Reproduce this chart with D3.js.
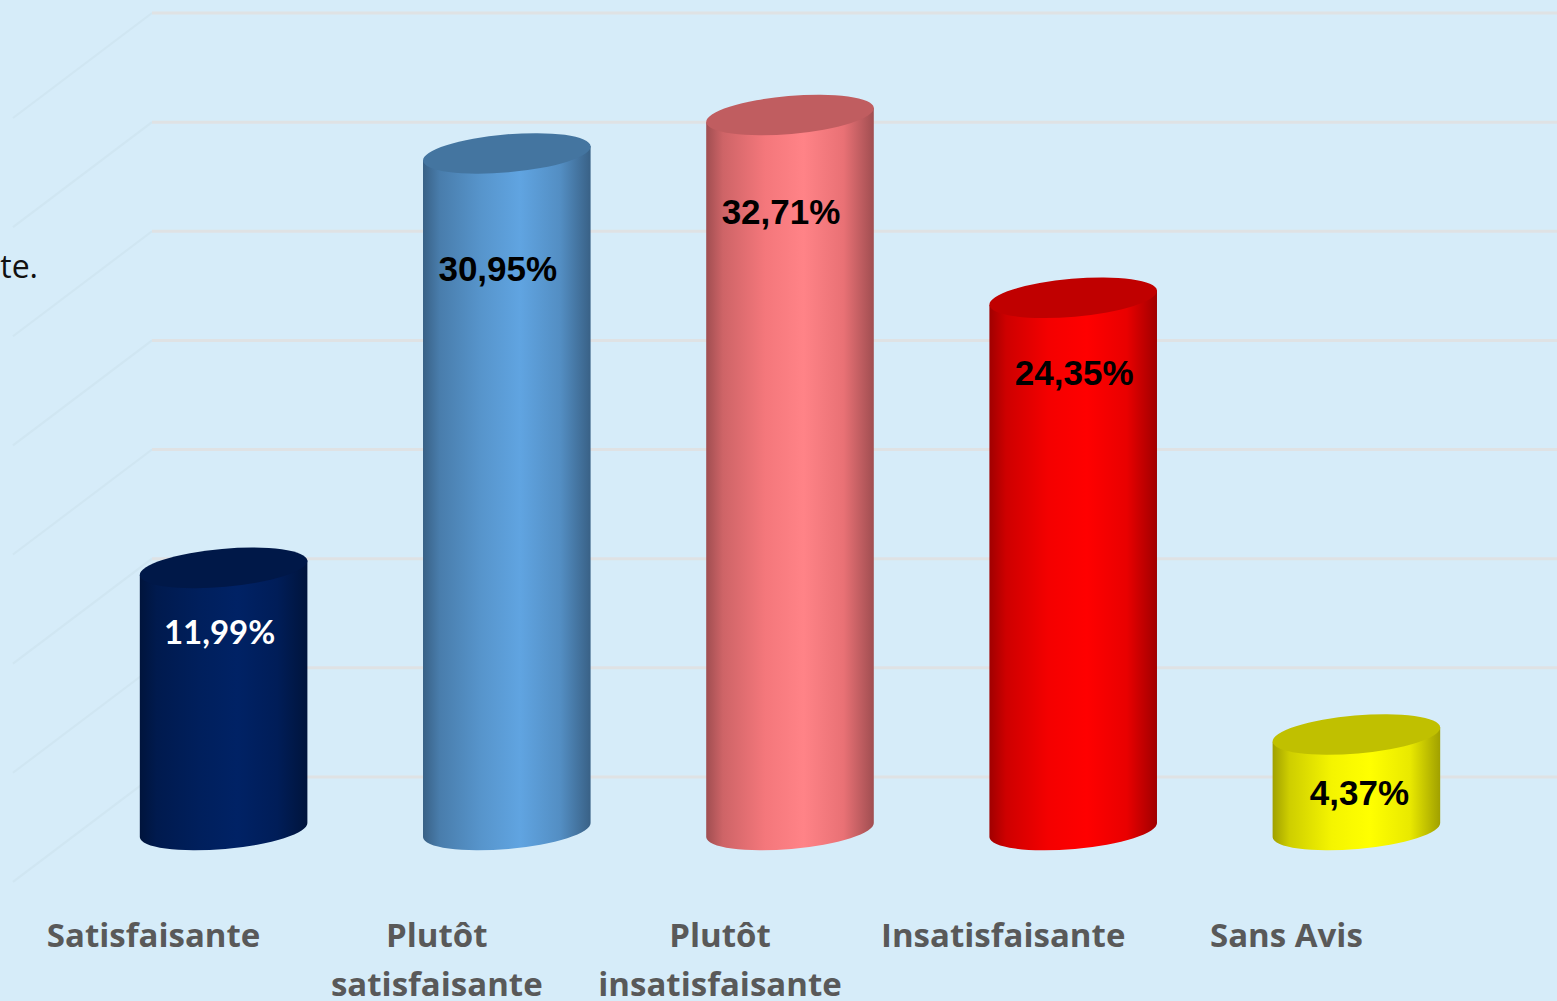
<!DOCTYPE html>
<html>
<head>
<meta charset="utf-8">
<script src="https://cdn.jsdelivr.net/npm/d3@7"></script>
<style>
  html, body { margin: 0; padding: 0; background: #d6ecf9; overflow: hidden; }
  svg { display: block; }
</style>
</head>
<body>
<svg id="chart" width="1557" height="1001"></svg>
<script>
// ---- data ----
const categories = ["Satisfaisante", "Plutôt satisfaisante", "Plutôt insatisfaisante", "Insatisfaisante", "Sans Avis"];
const values = [11.99, 30.95, 32.71, 24.35, 4.37];
const gridTicks = [5, 10, 15, 20, 25, 30, 35, 40];

// ---- styles / layout ----
const barColors = ["#002060", "#5B9BD5", "#FF7C80", "#FF0000", "#FFFF00"];
const labelColors = ["#ffffff", "#000000", "#000000", "#000000", "#000000"];
const labelOffsets = [65, 115, 97, 75, 58];
const labelDx = [-4, -9, -9, 1, 3];

const W = 1557, H = 1001;
const svg = d3.select("#chart");
svg.append("rect").attr("width", W).attr("height", H).attr("fill", "#d6ecf9");

const x = d3.scalePoint().domain(categories).range([82, 1498]).padding(0.5);
const yBar = d3.scaleLinear().domain([0, 35]).range([830, 830 - 35 * 21.86]);
const yWall = d3.scaleLinear().domain([0, 40]).range([886, 13]);

const wallLeft = 152, depthDx = -139, depthDy = 105;

// side-wall diagonals
svg.append("g").selectAll("line").data(gridTicks).join("line")
  .attr("x1", wallLeft).attr("y1", d => yWall(d))
  .attr("x2", wallLeft + depthDx).attr("y2", d => yWall(d) + depthDy)
  .attr("stroke", "#c9dfea").attr("stroke-width", 2).attr("opacity", 0.45);

// back-wall gridlines
svg.append("g").selectAll("line").data(gridTicks).join("line")
  .attr("x1", wallLeft).attr("x2", W)
  .attr("y1", d => yWall(d)).attr("y2", d => yWall(d))
  .attr("stroke", "#dfe2e4").attr("stroke-width", 3);

// gradients
const defs = svg.append("defs");
barColors.forEach((c, i) => {
  const base = d3.color(c);
  const g = defs.append("linearGradient").attr("id", "grad" + i)
    .attr("x1", "0%").attr("x2", "100%").attr("y1", "0%").attr("y2", "0%");
  const stops = [
    [0, base.darker(1.3)],
    [0.1, base.darker(0.6)],
    [0.35, base.darker(0.12)],
    [0.58, base.brighter(0.15)],
    [0.82, base.darker(0.25)],
    [1, base.darker(1.3)]
  ];
  stops.forEach(([o, col]) => g.append("stop").attr("offset", o).attr("stop-color", col.formatHex()));
});

// cylinders
const step = x.step();
const rx = step * 0.297, ry = 19, tilt = -5;
const ca = Math.cos(tilt * Math.PI / 180), sa = Math.sin(tilt * Math.PI / 180);

const bars = svg.append("g").selectAll("g").data(values.map((v, i) => ({ v, i, c: categories[i] }))).join("g");

bars.append("path")
  .attr("d", d => {
    const cx = x(d.c), yt = yBar(d.v), yb = yBar(0);
    const lx = cx - rx * ca, rxp = cx + rx * ca;
    const ld = -rx * sa, rd = rx * sa;
    return `M${lx},${yt + ld} L${lx},${yb + ld} A${rx},${ry} ${tilt} 0 0 ${rxp},${yb + rd} L${rxp},${yt + rd} Z`;
  })
  .attr("fill", d => `url(#grad${d.i})`);

bars.append("ellipse")
  .attr("cx", d => x(d.c)).attr("cy", d => yBar(d.v))
  .attr("rx", rx).attr("ry", ry)
  .attr("transform", d => `rotate(${tilt},${x(d.c)},${yBar(d.v)})`)
  .attr("fill", d => d3.color(barColors[d.i]).darker(0.8).formatHex());

// value labels
const fmt = v => d3.format(".2f")(v).replace(".", ",") + "%";
bars.append("text")
  .attr("x", d => x(d.c) + labelDx[d.i])
  .attr("y", d => yBar(d.v) + labelOffsets[d.i])
  .attr("dy", "0.35em")
  .attr("text-anchor", "middle")
  .attr("font-family", d => d.i === 0 ? "Lato, 'Open Sans', sans-serif" : "'Liberation Sans', Arial, sans-serif")
  .attr("font-weight", "bold")
  .attr("font-size", d => d.i === 0 ? 33 : 35)
  .attr("fill", d => labelColors[d.i])
  .text(d => fmt(d.v));

// category labels
const catG = svg.append("g");
categories.forEach((c, i) => {
  const words = c.split(" ");
  const lines = (words.length > 1 && c.length > 12) ? [words[0], words.slice(1).join(" ")] : [c];
  const t = catG.append("text")
    .attr("x", x(c) - 70).attr("y", 947)
    .attr("text-anchor", "middle")
    .attr("font-family", "'Open Sans', Lato, sans-serif")
    .attr("font-weight", "bold")
    .attr("font-size", 33)
    .attr("fill", "#595959");
  lines.forEach((l, j) => t.append("tspan").attr("x", x(c) - 70).attr("dy", j === 0 ? 0 : 49).text(l));
});

// stray slide text fragment at left
svg.append("text").attr("x", 38).attr("y", 278).attr("text-anchor", "end")
  .attr("font-family", "'Open Sans', sans-serif").attr("font-size", 32).attr("fill", "#111")
  .text("te.");
</script>
</body>
</html>
